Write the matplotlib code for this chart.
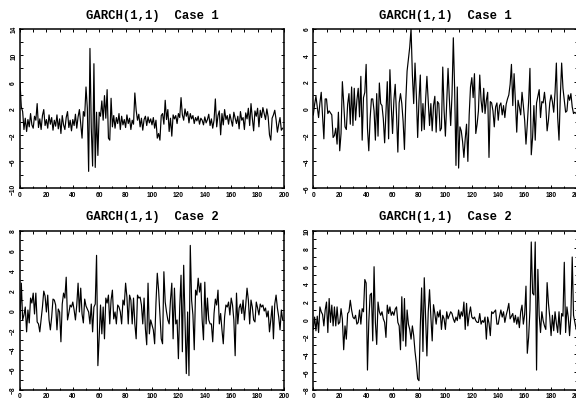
import numpy as np
import matplotlib
matplotlib.use("Agg")
import matplotlib.pyplot as plt
from matplotlib.ticker import MultipleLocator

# Case 1, left panel
tl_vals = [5.9, 2.2, 1.5, -1.2, 0.5, -1.5, 0.3, -0.8, 1.2, -0.5,
           -1.0, 0.8, 0.2, 2.7, -0.9, 0.4, -1.2, 0.9, 1.8, -0.6,
           0.3, -1.0, 1.0, -0.4, 0.6, -1.3, 0.2, -0.7, 1.0, -1.1,
           0.4, -1.8, 0.9, -0.5, -1.2, 0.6, 1.5, -0.9, 0.2, -1.4,
           0.3, -0.6, 1.1, -1.0, 0.7, 1.8, -0.3, -2.5, 1.5, 0.8,
           5.2, 2.0, -7.5, 11.0, -1.0, -6.7, 8.7, -6.9, 1.4, -5.1,
           1.4, 0.8, 3.1, 0.2, 3.9, 0.5, 4.8, -2.5, -2.8, 3.5,
           -0.8, 0.9, -1.0, 0.6, -0.3, 1.2, -1.2, 0.8, -0.5, 0.3,
           -0.9, 1.0, -0.3, 0.5, -1.2, 0.2, -0.4, 4.3, 1.7, 0.2,
           1.1, -0.8, 0.5, -1.3, 0.3, 0.8, -0.6, 0.7, -0.2, 0.4,
           -0.5, 0.6, -1.0, 0.2, -2.5, -1.8, -2.8, 0.9, 1.2, -0.4,
           3.2, 0.3, 1.8, -1.5, 0.5, -2.2, 1.0, 0.4, 0.9, -0.3,
           1.2, 0.6, 3.6, 1.0, 0.2, 1.9, 0.8, 1.5, -0.2, 1.2,
           0.4, 0.9, -0.3, 0.6, 0.1, 0.8, -0.4, 0.5, 0.2, -0.5,
           0.7, -0.2, 0.3, 1.1, -0.6, 0.4, -1.0, 0.2, 3.4, -0.8,
           0.9, 1.6, -2.0, 1.2, -0.5, 1.8, 0.3, 0.9, -0.4, 1.1,
           0.2, -0.7, 1.4, 0.5, -0.3, 0.8, -1.1, 1.5, 0.2, 0.6,
           -1.2, 1.3, 0.4, 2.0, -0.6, 2.7, 0.5, -1.4, 1.6, 0.8,
           2.0, -0.8, 1.7, 0.6, 2.1, 1.2, 0.3, 1.9, 0.7, -2.0,
           -2.8, 0.5, 1.0, 1.7, 0.3, -1.6, -0.4, 0.6, -1.3, -1.0]

# Case 1, right panel
tr_vals = [-0.5, 0.3, 0.9, 0.1, -0.7, 0.4, 1.2, -0.6, -2.3, 0.7,
           0.7, -0.4, -0.2, -0.35, -0.5, -2.2, -2.05, -1.5, -2.7, -0.3,
           -3.2, -1.9, 2.0, 0.4, -1.4, -1.6, 0.3, 1.1, -1.2, 1.6,
           -1.3, 1.5, -0.9, 0.6, 1.5, -0.65, 2.4, -2.4, 0.8, 1.2,
           3.3, -1.5, -3.2, -0.8, 0.7, 0.7, -0.2, -2.4, 1.1, -2.1,
           1.9, 0.35, 0.2, -0.8, -2.6, -0.2, 2.0, -2.3, 2.9, 0.2,
           -1.9, 0.6, 1.8, -0.5, -3.3, 0.4, 1.1, 0.35, -1.0, -3.1,
           0.5, 2.8, 3.7, 4.6, 6.0, 2.5, 0.35, 3.4, 1.0, -2.2,
           0.6, 2.5, -1.7, 0.35, -1.6, 0.6, 2.4, 0.5, -1.3, 0.35,
           -1.7, 0.2, 0.9, -1.8, 0.5, 0.35, -1.7, -1.5, 3.1, -0.15,
           -2.1, 0.5, 3.0, 0.7, -1.3, 1.0, 5.3, 1.4, -4.3, 1.6,
           -4.5, -1.4, -1.7, -2.5, -3.7, -2.3, -1.2, -4.0, -0.5, 1.6,
           2.3, 0.8, 2.6, -1.9, -1.2, -0.2, 2.5, 0.6, -0.3, 1.5,
           -0.4, 0.6, 1.2, -3.7, 0.5, 0.4, -0.2, -1.4, 0.1, 0.4,
           -0.9, 0.2, 0.4, -0.5, 0.2, -0.7, 0.3, 0.7, 1.0, 1.8,
           3.3, 0.2, 2.6, 0.5, -1.8, 0.6, 0.1, -0.5, 1.2, 0.2,
           -0.9, -2.7, -1.2, 0.5, 3.0, -3.5, -2.2, 0.2, -2.4, 0.4,
           0.9, 1.4, -0.7, 0.5, 0.4, 1.2, 0.2, -1.7, -0.9, 0.4,
           1.0, 0.5, -0.3, 1.2, 3.4, -0.7, -2.4, 0.9, 3.4, 1.5,
           0.6, -0.3, -0.2, 1.0, 0.6, 1.1, 0.1, -0.4, -0.3, -0.4]

# Case 2, left panel
bl_vals = [-0.85, 2.7, -1.0, -0.5, 0.3, -2.2, 0.0, -1.3, 1.2, 0.7,
           1.7, -0.4, 1.7, -1.2, -1.4, -2.2, -1.0, 0.3, 1.9, 1.4,
           -0.2, 1.5, -1.0, -2.0, -0.7, 1.1, 1.0, 0.5, -2.0, 0.1,
           -0.2, -3.2, 0.6, 1.7, 1.2, 3.3, -1.0, -0.3, 0.5, 0.3,
           0.8, 0.0, -1.0, 0.5, 2.7, -0.2, 2.2, -0.4, -1.3, 1.1,
           0.4, 0.1, -0.2, -1.4, 0.6, -2.2, 0.3, 0.6, 5.5, -5.6,
           -2.7, 0.5, -2.4, 0.3, -2.9, 1.2, 0.7, 1.5, -1.4, 1.0,
           2.0, -0.9, -0.2, -1.4, 0.5, 0.3, -0.2, -1.4, 1.0, 0.5,
           2.7, 1.3, -1.4, 1.5, 1.0, -1.4, 1.2, -1.4, -2.9, 1.5,
           1.2, 1.3, 0.5, -1.4, 1.2, -1.9, -3.5, 2.7, -2.4, -1.0,
           -1.5, -2.0, -3.4, 0.7, 3.7, 2.0, -0.5, -2.9, -3.4, 3.85,
           0.8, -0.2, -1.0, -1.4, 1.0, 2.7, -2.9, 2.2, -1.4, -1.0,
           -4.9, 0.3, 3.5, -4.2, 4.5, -1.0, -6.4, -0.2, -6.6, 6.5,
           1.0, -0.5, -4.0, 2.0, 1.5, 3.2, 1.8, 2.7, -1.0, -3.0,
           2.8, -1.4, 1.2, -1.0, -1.4, -1.4, -3.2, -0.35, 1.1, 0.5,
           2.0, -1.4, -0.35, -2.0, -3.4, -0.7, 0.5, 0.3, 0.8, -0.5,
           1.2, 0.5, -1.0, -4.6, 1.7, -1.4, 0.2, 0.6, -0.35, 1.0,
           -1.0, 0.5, 2.2, 1.0, -1.4, 1.0, 0.3, -1.0, -1.2, 0.8,
           0.2, -0.5, 0.6, 0.3, 0.5, -0.1, 0.2, -0.7, -0.1, -2.2,
           -1.0, 0.4, -2.9, 0.6, 1.5, 0.2, -0.7, -2.0, 0.0, -1.0]

# Case 2, right panel
br_vals = [-1.2, 0.2, -1.35, 0.3, -1.55, 1.35, 0.8, 0.5, -0.8, 1.0,
           1.9, -1.55, 2.3, -0.4, 1.55, -0.8, 1.35, -0.8, 1.35, -0.6,
           -0.4, 1.15, 0.0, -3.5, -0.8, -2.3, 0.6, 0.8, 2.1, 1.0,
           0.2, 0.0, 0.4, -0.6, -0.4, 1.0, -0.6, 1.15, 0.8, 4.45,
           4.05, -5.8, -0.4, 2.7, 2.9, -2.5, 5.9, -0.4, -2.9, 1.9,
           0.8, 0.4, 0.8, 0.0, -0.4, -2.1, 1.55, 0.6, 1.35, 0.4,
           0.8, 0.4, 1.1, 1.35, -0.4, -0.8, -3.5, 2.5, -2.5, 2.3,
           -3.1, 1.0, -0.6, -1.2, -2.3, -0.8, -1.9, -3.7, -5.0, -6.8,
           -7.0, -0.8, 3.5, -3.7, 4.65, 0.2, -4.2, 0.8, 3.3, 0.2,
           -2.5, 1.6, 0.6, -0.6, 0.8, 0.2, 1.0, -1.2, 0.4, 0.0,
           -1.2, 0.8, 0.0, 0.4, 0.8, 0.6, 0.0, -0.4, 0.2, -0.2,
           1.0, 0.0, 0.8, 0.3, 1.9, -1.2, 1.75, -0.8, 0.5, 1.35,
           0.2, 0.0, 0.2, -0.2, -0.4, -0.4, 0.6, -0.6, -0.2, -0.4,
           0.2, -2.3, 0.2, -0.5, -1.9, 0.8, 0.6, 0.8, 1.0, -0.6,
           -0.6, 0.3, 1.0, 0.2, 0.8, -0.4, 0.4, 1.0, 1.75, 0.0,
           0.3, 0.6, -0.4, 0.4, -0.6, 0.2, -1.0, 0.8, 1.55, -0.6,
           0.5, 3.7, -3.9, -2.1, 1.0, 8.7, 2.9, 2.7, 8.7, -5.8,
           5.6, 0.4, -1.55, 0.8, -0.2, -0.8, -1.2, 4.1, 1.75, 0.2,
           -1.9, 0.4, -1.35, 0.8, -0.5, -1.55, 0.8, -1.75, 0.6, 0.3,
           6.4, -1.55, 1.35, 0.2, -1.9, 0.4, 7.0, 0.4, -0.4, -1.2]

titles = ["GARCH(1,1)  Case 1", "GARCH(1,1)  Case 1",
          "GARCH(1,1)  Case 2", "GARCH(1,1)  Case 2"]
y_limits = [(-10, 14), (-6, 6), (-8, 8), (-8, 10)]
y_major = [4, 2, 2, 2]
y_minor = [2, 1, 1, 1]
x_ticks = list(range(0, 201, 20))

fig = plt.figure(figsize=(5.76, 4.02), dpi=100)
W, H = 576.0, 402.0
# axes boxes in pixels: left, top, right, bottom
boxes = [(20, 29.5, 284, 189), (313.3, 29.5, 577.5, 189),
         (20, 231.5, 284, 390.5), (313.3, 231.5, 577.5, 390.5)]
title_y = [1.085, 1.085, 1.092, 1.092]

series = [tl_vals, tr_vals, bl_vals, br_vals]
for i, vals in enumerate(series):
    l, t, r, b = boxes[i]
    ax = fig.add_axes([l / W, 1 - b / H, (r - l) / W, (b - t) / H])
    x = np.arange(len(vals))
    ax.plot(x, vals, color="black", lw=0.85)
    ax.set_xlim(0, 200)
    ax.set_ylim(*y_limits[i])
    ax.set_xticks(x_ticks)
    ax.xaxis.set_minor_locator(MultipleLocator(10))
    lo, hi = y_limits[i]
    ax.set_yticks(np.arange(lo, hi + 0.1, y_major[i]))
    ax.yaxis.set_minor_locator(MultipleLocator(y_minor[i]))
    ax.tick_params(which="both", direction="in", top=True, right=True,
                   width=0.7, labelsize=4.8, pad=2)
    ax.tick_params(which="major", length=2.2)
    ax.tick_params(which="minor", length=1.8)
    for lab in ax.get_xticklabels() + ax.get_yticklabels():
        lab.set_fontweight("bold")
        lab.set_family("Liberation Sans")
    for lab in ax.get_yticklabels():
        lab.set_rotation(90)
        lab.set_va("center")
    for sp in ax.spines.values():
        sp.set_linewidth(1.1)
    ax.text(0.5, title_y[i], titles[i], transform=ax.transAxes,
            ha="center", va="center", fontsize=8.8,
            family="Liberation Mono", fontweight="bold")

fig.savefig("out.png", dpi=100)
